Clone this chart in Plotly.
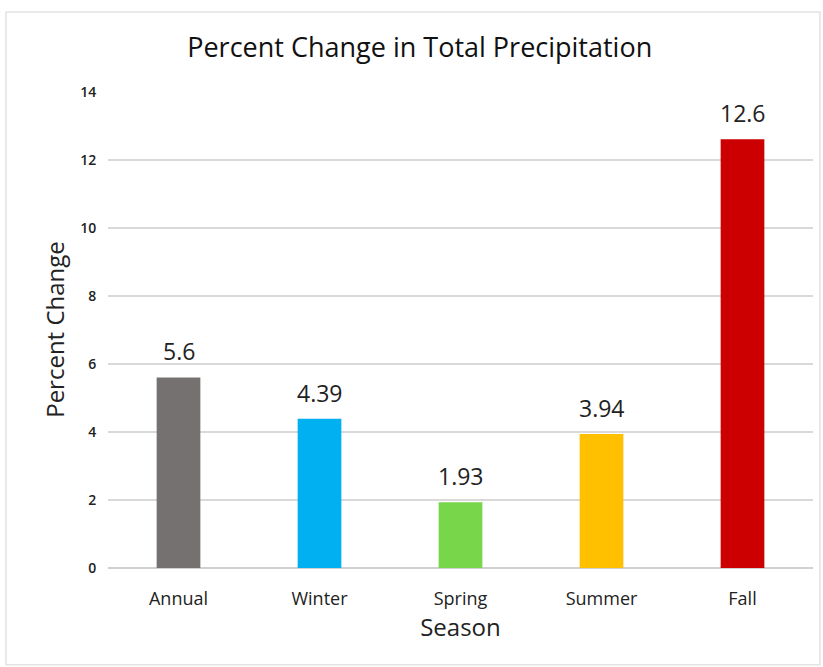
import plotly.graph_objects as go

seasons = ["Annual", "Winter", "Spring", "Summer", "Fall"]
pct_change = [5.6, 4.39, 1.93, 3.94, 12.6]
bar_colors = ["#767171", "#00B0F0", "#77D64A", "#FFC000", "#CC0000"]
y_ticks = [0, 2, 4, 6, 8, 10, 12, 14]

fig = go.Figure()
fig.add_trace(go.Bar(
    x=seasons,
    y=pct_change,
    marker=dict(color=bar_colors, line=dict(width=0)),
    cliponaxis=False,
))

for s, v in zip(seasons, pct_change):
    fig.add_annotation(
        x=s, y=v, text=str(v), showarrow=False,
        yanchor="bottom", yshift=8,
        font=dict(family="Open Sans", size=23, color="#222222"),
    )

fig.update_layout(
    width=823, height=667,
    margin=dict(l=108, r=10, t=91, b=99),
    paper_bgcolor="white",
    plot_bgcolor="white",
    showlegend=False,
    bargap=0.69,
    title=dict(
        text="Percent Change in Total Precipitation",
        x=0.51, xanchor="center", y=0.928, yanchor="middle",
        font=dict(family="Open Sans", size=27, color="#111111"),
    ),
    xaxis=dict(
        title=dict(text="Season", font=dict(family="Open Sans", size=24, color="#222222"), standoff=8),
        tickfont=dict(family="Open Sans", size=18, color="#222222"),
        showgrid=False, showline=False, ticks="outside", ticklen=14, tickcolor="rgba(0,0,0,0)",
    ),
    yaxis=dict(
        title=dict(text="Percent Change", font=dict(family="Open Sans", size=24, color="#222222"), standoff=8),
        tickvals=y_ticks,
        range=[0, 14.02],
        tickfont=dict(family="Open Sans", size=14, color="#222222", weight=600),
        showgrid=True, gridcolor="#d9d9d9", gridwidth=1.5,
        zeroline=True, zerolinecolor="#d0d0d0", zerolinewidth=1.5,
        showline=False, ticks="outside", ticklen=8, tickcolor="rgba(0,0,0,0)",
    ),
    shapes=[dict(
        type="rect", xref="paper", yref="paper",
        x0=-0.1447, x1=1.0099, y0=-0.203, y1=1.1656,
        line=dict(color="#e3e3e3", width=1.5), fillcolor="rgba(0,0,0,0)", layer="below",
    )],
)

fig.write_html("out.html")
